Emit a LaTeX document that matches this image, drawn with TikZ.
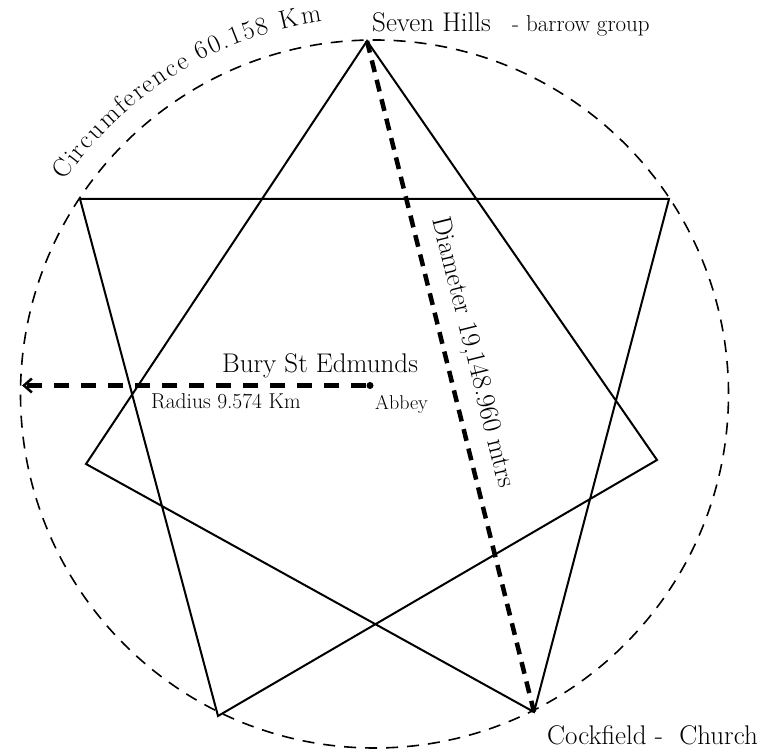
\documentclass[tikz,border=0pt]{standalone}
\usepackage{fontspec}
\usepackage{tikz}
\usetikzlibrary{arrows.meta, decorations.text}

\begin{document}
\begin{tikzpicture}[x=1pt, y=1pt,
  starline/.style={line width=2pt, line join=miter},
  circline/.style={dash pattern=on 12pt off 9pt, line width=1.6pt},
  chordline/.style={dash pattern=on 12pt off 8pt, line width=4.5pt},
  radline/.style={dash pattern=on 15pt off 12pt, line width=4.5pt},
  bigtext/.style={font=\fontsize{27}{31}\selectfont, inner sep=0pt},
  smalltext/.style={font=\fontsize{21.5}{25}\selectfont, inner sep=0pt}]
  \useasboundingbox (0,0) rectangle (770,751);
  \coordinate (centre) at (374.5,357);
  \coordinate (top) at (367,710);
  \coordinate (upleft) at (80,552);
  \coordinate (upright) at (669,552);
  \coordinate (left) at (86,287);
  \coordinate (right) at (657,291);
  \coordinate (botleft) at (218,35);
  \coordinate (botright) at (534,39);
  \coordinate (rtip) at (22,365.5);
  \draw[circline] (centre) circle[radius=354];
  \draw[starline] (top) -- (left) -- (botright) -- (upright) -- (upleft) -- (botleft) -- (right) -- cycle;
  \draw[chordline] (top) -- (botright);
  \node[circle, fill, inner sep=0pt, minimum size=7pt] (abbey) at (370,365.5) {};
  \draw[radline, -{Straight Barb[length=8pt, width=14pt, line width=2.5pt]}] (abbey) -- (rtip);
  \path[decorate, decoration={text effects along path, text={Circumference 60.158 Km},
    text effects/.cd, fit text to path, characters={text along path, inner sep=0pt, font=\fontsize{26}{30}\selectfont}}]
    (centre) ++(145.5:376) arc[start angle=145.5, end angle=98, radius=376];
  \node[bigtext, anchor=base west] (hills) at (372,719) {Seven Hills};
  \node[font=\fontsize{23}{27}\selectfont, inner sep=0pt, anchor=base west] (barrow) at (512,719) {- barrow group};
  \node[bigtext, anchor=base west] (cockfield) at (547,6) {Cockfield - \ Church};
  \node[bigtext, anchor=base west] (bury) at (222,378) {Bury St Edmunds};
  \node[smalltext, anchor=base west] (radius) at (151,342) {Radius 9.574 Km};
  \node[font=\fontsize{20}{24}\selectfont, inner sep=0pt, anchor=base west] (abbeylbl) at (375,341) {Abbey};
  \node[bigtext, rotate=-76, anchor=base] (diam) at (466,397) {Diameter 19,148.960 mtrs};
\end{tikzpicture}
\end{document}
